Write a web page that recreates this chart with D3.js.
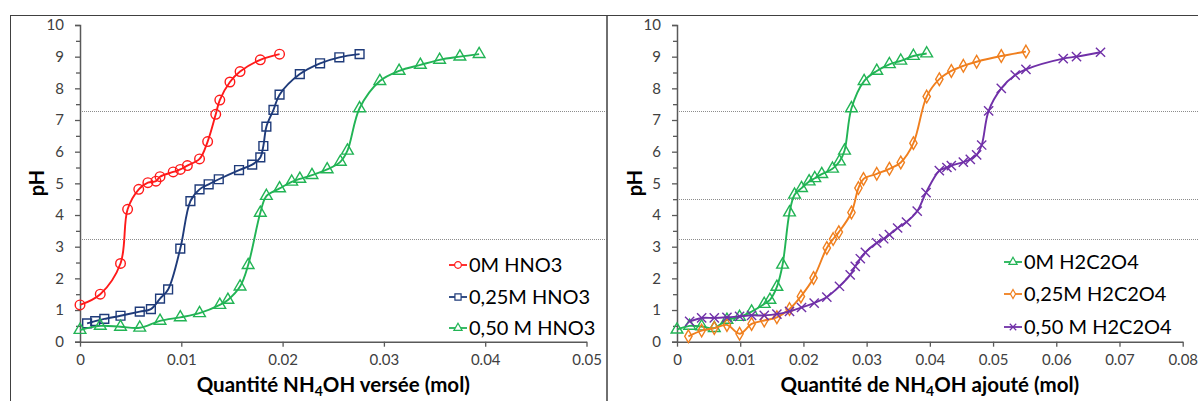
<!DOCTYPE html>
<html><head><meta charset="utf-8">
<script src="https://cdn.jsdelivr.net/npm/d3@7"></script>
<style>body{margin:0;background:#fff;} svg{display:block;font-family:Lato, "Open Sans", sans-serif;}</style>
</head><body><svg id="c" width="1198" height="401"></svg>
<script>
// ---------- data ----------
const yTicks = [0,1,2,3,4,5,6,7,8,9,10];
const leftXTicks = [0,0.01,0.02,0.03,0.04,0.05];
const rightXTicks = [0,0.01,0.02,0.03,0.04,0.05,0.06,0.07,0.08];
const leftRefLines = [7.3,3.25];
const rightRefLines = [7.3,4.5,3.25];

const hno3Names = ["0M HNO3","0,25M HNO3","0,50 M HNO3"];
const oxalNames = ["0M H2C2O4","0,25M H2C2O4","0,50 M H2C2O4"];

const hno30X = [0,0.002,0.004,0.0047,0.0058,0.0067,0.0075,0.0079,0.0092,0.0099,0.0106,0.0118,0.0126,0.0134,0.0138,0.0148,0.0158,0.0178,0.0197];
const hno30Y = [1.16,1.5,2.47,4.18,4.81,5.02,5.07,5.21,5.36,5.44,5.56,5.77,6.32,7.18,7.63,8.2,8.53,8.9,9.08];

const hno325X = [0.0007,0.0015,0.0024,0.004,0.0059,0.007,0.0079,0.0087,0.0099,0.0109,0.0118,0.0127,0.0137,0.0157,0.017,0.0178,0.0181,0.0184,0.0191,0.0197,0.0217,0.0237,0.0256,0.0276];
const hno325Y = [0.58,0.65,0.72,0.82,0.95,1.03,1.36,1.65,2.94,4.44,4.81,4.97,5.13,5.42,5.59,5.82,6.18,6.79,7.32,7.8,8.45,8.79,8.98,9.08];

const hno350X = [0,0.002,0.004,0.0059,0.0079,0.0099,0.0118,0.0138,0.0146,0.0158,0.0166,0.0178,0.0184,0.0197,0.0209,0.0217,0.0229,0.0244,0.0257,0.0264,0.0276,0.0296,0.0315,0.0336,0.0355,0.0375,0.0394];
const hno350Y = [0.37,0.5,0.47,0.44,0.66,0.77,0.9,1.16,1.32,1.74,2.42,4.07,4.6,4.84,5.05,5.14,5.26,5.44,5.68,6.03,7.37,8.23,8.55,8.74,8.9,9.0,9.08];

const oxal0X = [0,0.002,0.0039,0.0059,0.0079,0.0099,0.0118,0.0138,0.0147,0.0158,0.0167,0.0178,0.0186,0.0197,0.0209,0.0218,0.0229,0.0246,0.0257,0.0265,0.0276,0.0296,0.0316,0.0336,0.0354,0.0374,0.0395];
const oxal0Y = [0.38,0.5,0.48,0.43,0.69,0.78,0.95,1.19,1.32,1.73,2.43,4.08,4.64,4.85,5.06,5.16,5.29,5.46,5.69,6.03,7.37,8.23,8.55,8.76,8.87,9.02,9.1];

const oxal25X = [0.0018,0.0039,0.0059,0.0079,0.0099,0.0118,0.0138,0.0158,0.0178,0.0196,0.0216,0.0237,0.0247,0.0256,0.0276,0.0287,0.0295,0.0316,0.0336,0.0354,0.0374,0.0395,0.0415,0.0434,0.0453,0.0474,0.0513,0.0552];
const oxal25Y = [0.17,0.35,0.43,0.53,0.25,0.56,0.67,0.77,1.03,1.43,2.01,2.96,3.24,3.46,4.08,4.85,5.14,5.3,5.46,5.66,6.27,7.74,8.29,8.55,8.71,8.84,9.02,9.16];

const oxal50X = [0.002,0.0039,0.0059,0.0079,0.0099,0.0118,0.0138,0.0158,0.0178,0.0197,0.0217,0.0237,0.0257,0.0274,0.0282,0.029,0.0298,0.0316,0.0327,0.0336,0.0349,0.0363,0.038,0.0394,0.0415,0.0427,0.0434,0.0453,0.0464,0.0474,0.0482,0.0493,0.0513,0.0535,0.0552,0.0611,0.0632,0.067];
const oxal50Y = [0.64,0.75,0.75,0.77,0.8,0.83,0.83,0.87,0.96,1.08,1.22,1.41,1.75,2.11,2.38,2.62,2.82,3.12,3.25,3.38,3.59,3.78,4.12,4.71,5.4,5.5,5.56,5.67,5.76,5.9,6.21,7.29,8.0,8.42,8.6,8.94,9.0,9.14];

// ---------- drawing ----------
const svg = d3.select("#c");
const AXIS = "#595959", TXT = "#404040";

function markerPath(kind, s) {
  if (kind === "x") { return `M${-s},${-s}L${s},${s}M${-s},${s}L${s},${-s}`; }
  const t = {circle: d3.symbolCircle, square: d3.symbolSquare, triangle: d3.symbolTriangle, diamond: d3.symbolDiamond}[kind];
  const area = {circle: Math.PI*s*s, square: 4*s*s, triangle: 2.2*s*s, diamond: 2.4*s*s}[kind];
  return d3.symbol().type(t).size(area)();
}

function drawChart(o) {
  const g = svg.append("g");
  const x = d3.scaleLinear().domain(o.xDomain).range(o.xRange);
  const y = d3.scaleLinear().domain([0,10]).range([341.7, 25]);

  // frame
  g.append("rect").attr("x", o.frame[0]).attr("y", 15.5).attr("width", o.frame[1]-o.frame[0]).attr("height", 420)
    .attr("fill", "none").attr("stroke", "#404040").attr("stroke-width", 1);

  // reference dotted lines
  g.selectAll(".ref").data(o.refs).join("line")
    .attr("x1", o.xRange[0]).attr("x2", o.frame[1]).attr("y1", d => Math.round(y(d))+0.5).attr("y2", d => Math.round(y(d))+0.5)
    .attr("stroke", "#8c8c8c").attr("stroke-width", 1).attr("stroke-dasharray", "1,1");

  // y axis
  const ya = g.append("g").attr("transform", `translate(${o.xRange[0]},0)`)
    .call(d3.axisLeft(y).tickValues(o.yTicks).tickFormat(d3.format("d")).tickSize(5).tickPadding(11));
  const ym = g.append("g").attr("transform", `translate(${o.xRange[0]},0)`)
    .call(d3.axisLeft(y).tickValues(d3.range(0.5,10,1)).tickFormat("").tickSize(4));
  ym.select(".domain").remove();
  // x axis
  const xa = g.append("g").attr("transform", `translate(0,${y(0)})`)
    .call(d3.axisBottom(x).tickValues(o.xTicks).tickFormat(d => d === 0 ? "0" : d3.format(".2f")(d)).tickSizeInner(5).tickSizeOuter(0).tickPadding(8));
  [ya, ym, xa].forEach(a => {
    a.selectAll("line").attr("stroke", AXIS).attr("stroke-width", 1.3);
    a.selectAll(".domain").attr("stroke", AXIS).attr("stroke-width", 1.5);
    a.selectAll("text").attr("fill", TXT).style("font-size", "15px").style("font-family", "Lato");
  });

  // axis titles
  g.append("text").attr("transform", `translate(${o.pHx},183) rotate(-90)`)
    .attr("text-anchor", "middle").attr("dominant-baseline", "central")
    .style("font-weight", "bold").style("font-size", "20px").attr("fill", "#000").text("pH");
  const xt = g.append("text").attr("x", (o.xRange[0]+o.xRange[1])/2).attr("y", 392)
    .attr("text-anchor", "middle").style("font-weight", "bold").style("font-size", "20.5px").attr("fill", "#000");
  xt.append("tspan").text(o.xTitle[0]);
  xt.append("tspan").attr("dy", 4).style("font-size", "14px").text("4");
  xt.append("tspan").attr("dy", -4).text(o.xTitle[1]);

  // series
  const line = d3.line().x(d => x(d[0])).y(d => y(d[1])).curve(d3.curveCatmullRom.alpha(0.5));
  o.series.forEach(s => {
    const pts = s.xs.map((v,i) => [v, s.ys[i]]);
    g.append("path").attr("d", line(pts)).attr("fill", "none").attr("stroke", s.color).attr("stroke-width", 1.9);
    g.selectAll(null).data(pts).join("path")
      .attr("transform", d => `translate(${x(d[0])},${y(d[1])})`)
      .attr("d", markerPath(s.marker, s.size))
      .attr("fill", "none").attr("stroke", s.color).attr("stroke-width", 1.4);
  });

  // legend
  o.series.forEach((s, i) => {
    const ly = o.legY[i];
    const lg = g.append("g").attr("transform", `translate(${o.legX},${ly})`);
    lg.append("line").attr("x1", 0).attr("x2", 18).attr("stroke", s.color).attr("stroke-width", 1.8);
    lg.append("path").attr("transform", "translate(9,0)").attr("d", markerPath(s.marker, s.size*0.7))
      .attr("fill", "#fff").attr("stroke", s.color).attr("stroke-width", 1.2);
    lg.append("text").attr("x", 20).attr("dy", "0.35em").style("font-size", "20px").attr("fill", "#000").text(s.name);
  });
}

const RED = "#ff1a1a", NAVY = "#1f3b7a", GREEN = "#22b455", ORANGE = "#f07f1e", PURPLE = "#7030a8";

drawChart({
  frame: [10.5, 607],
  xDomain: [0, 0.05], xRange: [80, 586.5], xTicks: leftXTicks, yTicks: yTicks, refs: leftRefLines,
  pHx: 36, xTitle: ["Quantité NH", "OH versée (mol)"],
  legX: 449, legY: [265, 297, 328],
  series: [
    {name: hno3Names[0], xs: hno30X, ys: hno30Y, color: RED, marker: "circle", size: 4.8},
    {name: hno3Names[1], xs: hno325X, ys: hno325Y, color: NAVY, marker: "square", size: 4.4},
    {name: hno3Names[2], xs: hno350X, ys: hno350Y, color: GREEN, marker: "triangle", size: 5.2}
  ]
});
drawChart({
  frame: [607, 1205],
  xDomain: [0, 0.08], xRange: [677, 1182.7], xTicks: rightXTicks, yTicks: yTicks, refs: rightRefLines,
  pHx: 634, xTitle: ["Quantité de NH", "OH ajouté (mol)"],
  legX: 1004, legY: [262, 294, 327],
  series: [
    {name: oxalNames[0], xs: oxal0X, ys: oxal0Y, color: GREEN, marker: "triangle", size: 5.2},
    {name: oxalNames[1], xs: oxal25X, ys: oxal25Y, color: ORANGE, marker: "diamond", size: 4.4},
    {name: oxalNames[2], xs: oxal50X, ys: oxal50Y, color: PURPLE, marker: "x", size: 4.6}
  ]
});
</script></body></html>
